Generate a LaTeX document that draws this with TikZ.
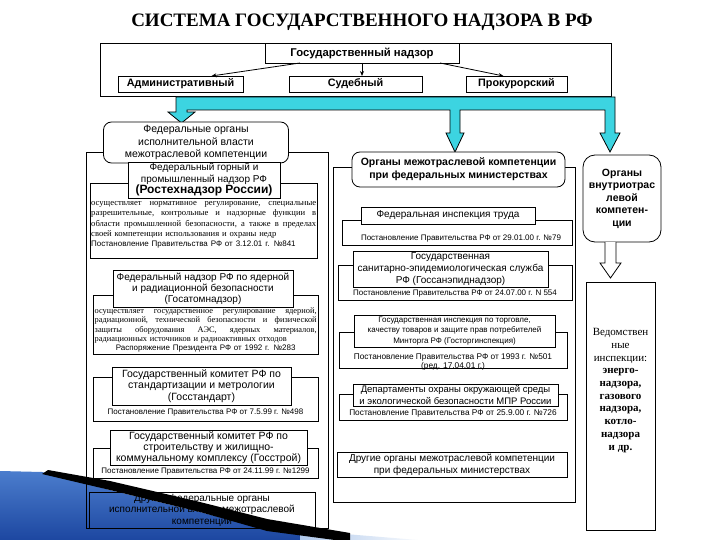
\documentclass[tikz,border=0pt]{standalone}
\usepackage{fontspec}
\setmainfont{Liberation Serif}
\setsansfont{Liberation Sans}
\usetikzlibrary{arrows.meta,calc}
\newcommand\fsz[2]{\fontsize{#1}{#2}\selectfont}
\newcommand\jline[2]{\makebox[#1][s]{#2}}
\definecolor{cyanband}{RGB}{60,212,225}
\definecolor{swdark}{RGB}{28,70,160}
\definecolor{swmid}{RGB}{75,125,205}
\definecolor{swlight}{RGB}{175,200,235}
\begin{document}
\begin{tikzpicture}[x=1pt,y=-1pt,
  box/.style={draw, fill=white, inner sep=0pt, outer sep=0pt, align=center, font=\sffamily, line width=0.8pt},
  panel/.style={draw, inner sep=0pt, outer sep=0pt, line width=0.8pt},
  rbox/.style={box, rounded corners=8pt},
  dtext/.style={inner sep=0pt, anchor=north west, align=left, font=\rmfamily},
  ltext/.style={inner sep=0pt, font=\sffamily\fsz{8}{10}},
  tarrow/.style={-{Stealth[length=5pt,width=4pt]}, line width=0.8pt},
  band/.style={draw=black, fill=cyanband, line width=0.8pt, line join=miter}
]
\useasboundingbox (0,0) rectangle (720,540);
\fill[white] (0,0) rectangle (720,540);

% decorative swoosh (blue)
\shade[top color=swmid, bottom color=swdark] (0,471) -- (42,472) -- (110,490) -- (200,512) -- (267,530) -- (350,541) -- (0,541) -- cycle;
\shade[left color=swlight, right color=white] (300,528) -- (345,534) -- (430,541) -- (300,541) -- cycle;

% title
\node[inner sep=0pt, font=\rmfamily\bfseries\fsz{19}{21}] (title) at (362,22) {СИСТЕМА ГОСУДАРСТВЕННОГО НАДЗОРА В РФ};

% top block
\node[panel, minimum width=511pt, minimum height=53pt] (tb) at (355.5,69.5) {};
\node[box, minimum width=194pt, minimum height=20pt, font=\sffamily\bfseries\fsz{11.3}{13}] (gos) at (362,53) {Государственный надзор};
\node[box, minimum width=125pt, minimum height=16pt, font=\sffamily\bfseries\fsz{10.8}{12}] (adm) at (180.5,84) {Административный};
\node[box, minimum width=133pt, minimum height=16pt, font=\sffamily\bfseries\fsz{10.8}{12}] (sud) at (355.5,84) {Судебный};
\node[box, minimum width=101pt, minimum height=16pt, font=\sffamily\bfseries\fsz{10.8}{12}] (prok) at (516.5,84) {Прокурорский};
\draw[tarrow] ([xshift=-62pt]gos.south) -- ([xshift=31pt]adm.north);
\draw[tarrow] (gos.south) -- (gos.south |- sud.north);
\draw[tarrow] ([xshift=78pt]gos.south) -- ([xshift=-13pt]prok.north);

% cyan connector
\draw[band] (176,97) -- (176,112) -- (168,112) -- (181.5,123) -- (195,112) -- (187,112) -- (187,110)
  -- (450,110) -- (450,133) -- (446,133) -- (455,152) -- (464,133) -- (460,133) -- (460,110)
  -- (605,110) -- (605,133) -- (600,133) -- (610,152) -- (620,133) -- (615,133) -- (615,97) -- cycle;

% ===== left column =====
\node[panel, minimum width=242pt, minimum height=376pt] (lp) at (207,340) {};
\node[rbox, minimum width=185pt, minimum height=41pt, font=\sffamily\fsz{10.5}{12.5}] (fed) at (196,142.5)
  {Федеральные органы\\исполнительной власти\\межотраслевой компетенции};

% box 1
\node[box, minimum width=227pt, minimum height=75pt] (d1) at (203.5,220.5) {};
\node[box, minimum width=152pt, minimum height=36pt, font=\sffamily\fsz{10}{11.5}] (r1) at (204,180)
  {Федеральный горный и\\промышленный надзор РФ\\{\bfseries\fsz{12}{11.5}(Ростехнадзор России)}};
\node[dtext, text width=225pt, font=\rmfamily\fsz{8.6}{10.2}] (t1) at (91,201.5)
  {\jline{225pt}{осуществляет\hfill нормативное\hfill регулирование,\hfill специальные}\\
   \jline{225pt}{разрешительные,\hfill контрольные\hfill и\hfill надзорные\hfill функции\hfill в}\\
   \jline{225pt}{области\hfill промышленной\hfill безопасности,\hfill а\hfill также\hfill в\hfill пределах}\\
   своей компетенции использования и охраны недр\\
   {\sffamily\fsz{8}{10.2}Постановление Правительства РФ от 3.12.01 г. №841}};

% box 2
\node[box, minimum width=225pt, minimum height=59pt] (d2) at (205.5,324.5) {};
\node[box, minimum width=180pt, minimum height=37pt, font=\sffamily\fsz{10}{11}] (r2) at (203,288.5)
  {Федеральный надзор РФ по ядерной\\и радиационной безопасности\\(Госатомнадзор)};
\node[dtext, text width=222pt, font=\rmfamily\fsz{8.4}{9.3}] (t2) at (94.5,307.5)
  {\jline{222pt}{осуществляет\hfill государственное\hfill регулирование\hfill ядерной,}\\
   \jline{222pt}{радиационной,\hfill технической\hfill безопасности\hfill и\hfill физической}\\
   \jline{222pt}{защиты\hfill оборудования\hfill АЭС,\hfill ядерных\hfill материалов,}\\
   радиационных источников и радиоактивных отходов\\
   \makebox[222pt][c]{\sffamily\fsz{8}{9.3}Распоряжение Президента РФ от 1992 г. №283}};

% box 3
\node[box, minimum width=225pt, minimum height=44pt] (d3) at (205.5,399) {};
\node[box, minimum width=179pt, minimum height=38pt, font=\sffamily\fsz{10.5}{11.5}] (r3) at (201.5,386)
  {Государственный комитет РФ по\\стандартизации и метрологии\\(Госстандарт)};
\node[ltext] (t3) at (205.5,413) {Постановление Правительства РФ от 7.5.99 г. №498};

% box 4
\node[box, minimum width=225pt, minimum height=30pt] (d4) at (205.5,463) {};
\node[box, minimum width=197pt, minimum height=35pt, font=\sffamily\fsz{10.5}{11}] (r4) at (208.5,447.5)
  {Государственный комитет РФ по\\строительству и жилищно-\\коммунальному комплексу (Госстрой)};
\node[ltext] (t4) at (205.5,472) {Постановление Правительства РФ от 24.11.99 г. №1299};

% box 5 (no fill)
\node[panel, minimum width=226pt, minimum height=36pt, align=center, font=\sffamily\fsz{10}{11.5}] (b5) at (202,510)
  {Другие федеральные органы\\исполнительной власти межотраслевой\\компетенции};

% ===== middle column =====
\node[panel, minimum width=242pt, minimum height=335pt] (mp) at (454,334.5) {};
\node[rbox, minimum width=213pt, minimum height=35pt, font=\sffamily\bfseries\fsz{10.5}{13}] (mr) at (458.5,169.5)
  {Органы межотраслевой компетенции\\при федеральных министерствах};

\node[box, minimum width=230pt, minimum height=25pt] (md1) at (457,232.5) {};
\node[box, minimum width=174pt, minimum height=17pt, font=\sffamily\fsz{10}{12}] (mt1) at (448,215.5) {Федеральная инспекция труда};
\node[ltext] (ml1) at (461,239) {Постановление Правительства РФ от 29.01.00 г. №79};

\node[box, minimum width=234pt, minimum height=35pt] (md2) at (455,282.5) {};
\node[box, minimum width=195pt, minimum height=36pt, font=\sffamily\fsz{10}{12}] (mt2) at (450.5,269)
  {Государственная\\санитарно-эпидемиологическая служба\\РФ (Госсанэпиднадзор)};
\node[ltext] (ml2) at (455,293.5) {Постановление Правительства РФ от 24.07.00 г. N 554};

\node[box, minimum width=228pt, minimum height=36pt] (md3) at (453,350) {};
\node[box, minimum width=201pt, minimum height=32pt, font=\sffamily\fsz{8}{10.5}] (mt3) at (454.5,331)
  {Государственная инспекция по торговле,\\качеству товаров и защите прав потребителей\\Минторга РФ (Госторгинспекция)};
\node[ltext, align=center, font=\sffamily\fsz{8.3}{9}] (ml3) at (453,361.5) {Постановление Правительства РФ от 1993 г. №501\\(ред. 17.04.01 г.)};

\node[box, minimum width=228pt, minimum height=26pt] (md4) at (453,407) {};
\node[box, minimum width=205pt, minimum height=22pt, font=\sffamily\fsz{9.5}{11.5}] (mt4) at (455.5,395)
  {Департаменты охраны окружающей среды\\и экологической  безопасности МПР России};
\node[ltext, font=\sffamily\fsz{8.3}{10}] (ml4) at (453,413) {Постановление Правительства РФ от 25.9.00 г. №726};

\node[box, minimum width=230pt, minimum height=25pt, font=\sffamily\fsz{10}{12}] (md5) at (452,464.5)
  {Другие органы межотраслевой компетенции\\при федеральных министерствах};

% ===== right column =====
\node[box, rounded corners=12pt, minimum width=78pt, minimum height=87pt, font=\sffamily\bfseries\fsz{10.5}{12.5}] (rr) at (622,198.5)
  {Органы\\внутриотрас\\левой\\компетен-\\ции};
\draw[fill=white, line width=0.8pt] (605,242) -- (605,263) -- (600,263) -- (610.5,278) -- (621,263) -- (616,263) -- (616,242);
\node[panel, fill=white, minimum width=69pt, minimum height=248pt] (vb) at (620.5,406) {};
\node[inner sep=0pt, align=center, font=\rmfamily\fsz{11}{12.7}] (vt) at (620.5,390.5)
  {Ведомствен\\ные\\инспекции:\\{\bfseries энерго-}\\{\bfseries надзора,}\\{\bfseries газового}\\{\bfseries надзора,}\\{\bfseries котло-}\\{\bfseries надзора}\\{\bfseries и др.}};

% decorative swoosh (black stripe on top)
\fill[black] (48,470) -- (110,481) -- (200,502) -- (267,519) -- (350,533) -- (350,542) -- (267,531) -- (200,512) -- (110,490) -- (42,474) -- cycle;
\end{tikzpicture}
\end{document}
